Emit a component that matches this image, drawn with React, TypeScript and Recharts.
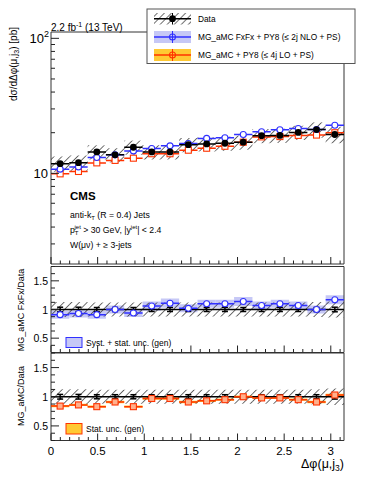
import React from 'react';
import { ComposedChart, Line, Scatter, XAxis, YAxis, ReferenceArea, ErrorBar } from 'recharts';

// bin edges of delta phi(mu, j3)
const binEdges = [0, 0.196, 0.393, 0.589, 0.785, 0.982, 1.178, 1.374, 1.571, 1.767, 1.963, 2.16, 2.356, 2.553, 2.749, 2.945, 3.1416];

// measured cross section [pb] and relative uncertainties
const dataXsec = [11.8, 12.0, 14.4, 13.7, 15.6, 14.4, 14.4, 16.3, 16.5, 16.7, 17.0, 19.0, 19.1, 20.1, 21.1, 19.4];
const dataTotUnc = [0.13, 0.13, 0.12, 0.12, 0.12, 0.12, 0.12, 0.12, 0.12, 0.12, 0.12, 0.12, 0.12, 0.12, 0.13, 0.14];
const dataStatUnc = [0.04, 0.04, 0.035, 0.035, 0.035, 0.035, 0.035, 0.035, 0.035, 0.035, 0.035, 0.035, 0.035, 0.035, 0.035, 0.04];

// MG_aMC FxFx + PY8 over data
const fxfxRatio = [0.91, 0.93, 0.91, 1.0, 0.94, 1.06, 1.11, 1.02, 1.1, 1.1, 1.14, 1.07, 1.1, 1.07, 1.0, 1.17];
const fxfxUnc = [0.07, 0.07, 0.07, 0.07, 0.07, 0.08, 0.08, 0.07, 0.07, 0.07, 0.08, 0.07, 0.07, 0.07, 0.07, 0.08];

// MG_aMC + PY8 (LO) over data
const mgRatio = [0.84, 0.86, 0.83, 0.91, 0.83, 0.97, 0.97, 0.91, 0.93, 0.95, 1.0, 0.98, 0.98, 0.95, 0.91, 1.03];
const mgUnc = [0.02, 0.02, 0.02, 0.02, 0.02, 0.02, 0.02, 0.02, 0.02, 0.02, 0.02, 0.02, 0.02, 0.02, 0.02, 0.02];

const xTicks = [0, 0.1, 0.2, 0.3, 0.4, 0.5, 0.6, 0.7, 0.8, 0.9, 1, 1.1, 1.2, 1.3, 1.4, 1.5, 1.6, 1.7, 1.8, 1.9, 2, 2.1, 2.2, 2.3, 2.4, 2.5, 2.6, 2.7, 2.8, 2.9, 3, 3.1];
const mainTicks = [3, 4, 5, 6, 7, 8, 9, 10, 20, 30, 40, 50, 60, 70, 80, 90, 100];
const ratioTicks = [0.25, 0.375, 0.5, 0.625, 0.75, 0.875, 1, 1.125, 1.25, 1.375, 1.5, 1.625, 1.75];

const X_MAX = 3.1416;
const MAIN_DOMAIN = [2.13, 111.4];
const RATIO_DOMAIN = [0.25, 1.75];

const BLUE = '#3030ff';
const RED = '#ff3300';
const BLUE_BAND = '#c6c8f6';
const ORANGE_BAND = '#ffc933';
const FONT = '"Liberation Sans", Arial, sans-serif';

const ones = dataXsec.map(() => 1);
const fxfxMain = dataXsec.map((v, i) => v * fxfxRatio[i]);
const mgMain = dataXsec.map((v, i) => v * mgRatio[i]);

const stepPts = (vals: number[]) =>
    vals.flatMap((v, i) => [
        { x: binEdges[i], y: v },
        { x: binEdges[i + 1], y: v },
        { x: binEdges[i + 1], y: null },
    ]);

const markerPts = (vals: number[], errs: number[]) =>
    vals.map((v, i) => ({ x: (binEdges[i] + binEdges[i + 1]) / 2, y: v, e: errs[i] }));

const isMajorX = (v: number) => Math.abs(v * 2 - Math.round(v * 2)) < 1e-6;

const makeXTick = (showLabel: boolean) => (props: any) => {
    const { x, y, payload } = props;
    const major = isMajorX(payload.value);
    return (
        <g>
            <line x1={x} x2={x} y1={y} y2={y - (major ? 7 : 3.5)} stroke="#222" strokeWidth={1} />
            {showLabel && major && (
                <text x={x} y={y + 14} textAnchor="middle" fontSize={11.5} fontFamily={FONT} fill="#000">
                    {payload.value}
                </text>
            )}
        </g>
    );
};

const MainYTick = (props: any) => {
    const { x, y, payload } = props;
    const v = payload.value;
    const major = v === 10 || v === 100;
    return (
        <g>
            <line x1={x} x2={x + (major ? 8 : 4)} y1={y} y2={y} stroke="#222" strokeWidth={1} />
            {v === 10 && (
                <text x={x - 3} y={y + 5} textAnchor="end" fontSize={13} fontFamily={FONT}>10</text>
            )}
            {v === 100 && (
                <text x={x - 2} y={y + 5} textAnchor="end" fontSize={13} fontFamily={FONT}>
                    10<tspan dy={-6} fontSize={9}>2</tspan>
                </text>
            )}
        </g>
    );
};

const RatioYTick = (props: any) => {
    const { x, y, payload } = props;
    const v = payload.value;
    const major = v === 0.5 || v === 1 || v === 1.5;
    return (
        <g>
            <line x1={x} x2={x + (major ? 8 : 4)} y1={y} y2={y} stroke="#222" strokeWidth={1} />
            {major && (
                <text x={x - 3} y={y + 4} textAnchor="end" fontSize={10.5} fontFamily={FONT}>{v}</text>
            )}
        </g>
    );
};

const HatchDef = ({ id }: { id: string }) => (
    <defs>
        <pattern id={id} patternUnits="userSpaceOnUse" width={5.5} height={5.5} patternTransform="rotate(45)">
            <line x1={0} y1={0} x2={0} y2={5.5} stroke="#222" strokeWidth={1.3} />
        </pattern>
    </defs>
);

const circleShape = (stroke: string) => (p: any) => (
    <circle cx={p.cx} cy={p.cy} r={3} fill="#fff" stroke={stroke} strokeWidth={1.1} />
);
const squareShape = (fill: string) => (p: any) => (
    <rect x={p.cx - 3} y={p.cy - 3} width={6} height={6} fill={fill} stroke={RED} strokeWidth={1.1} />
);
const dotShape = (p: any) => <circle cx={p.cx} cy={p.cy} r={3.4} fill="#000" />;

const chartStyle: React.CSSProperties = { position: 'absolute', left: 0, top: 0 };

function MainPanel() {
    return (
        <div style={chartStyle}>
            <ComposedChart width={374} height={484} margin={{ top: 32, bottom: 219, left: 50, right: 30 }}>
                <HatchDef id="hatchMain" />
                <XAxis dataKey="x" type="number" domain={[0, X_MAX]} allowDataOverflow ticks={xTicks} interval={0}
                    height={1} tickSize={0} tickMargin={0} axisLine={false} tickLine={false} tick={makeXTick(false)} />
                <YAxis dataKey="y" type="number" scale="log" domain={MAIN_DOMAIN} allowDataOverflow ticks={mainTicks}
                    interval={0} width={1} tickSize={0} tickMargin={0} axisLine={false} tickLine={false} tick={MainYTick} />
                {dataXsec.map((v, i) => (
                    <ReferenceArea key={'h' + i} x1={binEdges[i]} x2={binEdges[i + 1]} y1={v * (1 - dataTotUnc[i])}
                        y2={v * (1 + dataTotUnc[i])} fill="url(#hatchMain)" fillOpacity={1} stroke="none" ifOverflow="hidden" />
                ))}
                <Line data={stepPts(mgMain)} dataKey="y" stroke={RED} strokeWidth={1.5} dot={false} activeDot={false} isAnimationActive={false} />
                <Line data={stepPts(fxfxMain)} dataKey="y" stroke={BLUE} strokeWidth={1.5} dot={false} activeDot={false} isAnimationActive={false} />
                <Line data={stepPts(dataXsec)} dataKey="y" stroke="#000" strokeWidth={1.5} dot={false} activeDot={false} isAnimationActive={false} />
                <Scatter data={markerPts(mgMain, mgMain.map((v, i) => v * mgUnc[i]))} dataKey="y" shape={squareShape('#fff')} isAnimationActive={false}>
                    <ErrorBar dataKey="e" direction="y" width={0} stroke={RED} />
                </Scatter>
                <Scatter data={markerPts(fxfxMain, fxfxMain.map((v) => v * 0.025))} dataKey="y" shape={circleShape(BLUE)} isAnimationActive={false}>
                    <ErrorBar dataKey="e" direction="y" width={0} stroke={BLUE} />
                </Scatter>
                <Scatter data={markerPts(dataXsec, dataXsec.map((v, i) => v * dataStatUnc[i]))} dataKey="y" shape={dotShape} isAnimationActive={false}>
                    <ErrorBar dataKey="e" direction="y" width={0} stroke="#000" />
                </Scatter>
                <ReferenceArea x1={0} x2={X_MAX} y1={MAIN_DOMAIN[0]} y2={MAIN_DOMAIN[1]} fill="none" stroke="#333" strokeWidth={1} ifOverflow="extendDomain" />
            </ComposedChart>
        </div>
    );
}

function RatioPanel({ top, bottom, ratio, unc, band, kind, showLabels, hatchId }: any) {
    const color = kind === 'fxfx' ? BLUE : RED;
    return (
        <div style={chartStyle}>
            <ComposedChart width={374} height={484} margin={{ top, bottom: 484 - bottom - 1, left: 50, right: 30 }}>
                <HatchDef id={hatchId} />
                <XAxis dataKey="x" type="number" domain={[0, X_MAX]} allowDataOverflow ticks={xTicks} interval={0}
                    height={1} tickSize={0} tickMargin={0} axisLine={false} tickLine={false} tick={makeXTick(showLabels)} />
                <YAxis dataKey="y" type="number" domain={RATIO_DOMAIN} allowDataOverflow ticks={ratioTicks} interval={0}
                    width={1} tickSize={0} tickMargin={0} axisLine={false} tickLine={false} tick={RatioYTick} />
                {ratio.map((v: number, i: number) => (
                    <ReferenceArea key={'b' + i} x1={binEdges[i]} x2={binEdges[i + 1]} y1={v - unc[i]} y2={v + unc[i]}
                        fill={band} fillOpacity={1} stroke="none" ifOverflow="hidden" />
                ))}
                {ones.map((v, i) => (
                    <ReferenceArea key={'h' + i} x1={binEdges[i]} x2={binEdges[i + 1]} y1={v - dataTotUnc[i]} y2={v + dataTotUnc[i]}
                        fill={`url(#${hatchId})`} fillOpacity={1} stroke="none" ifOverflow="hidden" />
                ))}
                <Line data={stepPts(ones)} dataKey="y" stroke="#000" strokeWidth={1.5} dot={false} activeDot={false} isAnimationActive={false} />
                <Scatter data={markerPts(ones, dataStatUnc)} dataKey="y" shape={() => <g />} isAnimationActive={false}>
                    <ErrorBar dataKey="e" direction="y" width={3} stroke="#000" />
                </Scatter>
                <Line data={stepPts(ratio)} dataKey="y" stroke={color} strokeWidth={1.5} dot={false} activeDot={false} isAnimationActive={false} />
                <Scatter data={markerPts(ratio, ratio.map(() => 0.02))} dataKey="y"
                    shape={kind === 'fxfx' ? circleShape(BLUE) : squareShape('#ffb08c')} isAnimationActive={false}>
                    <ErrorBar dataKey="e" direction="y" width={0} stroke={color} />
                </Scatter>
                <ReferenceArea x1={0} x2={X_MAX} y1={RATIO_DOMAIN[0]} y2={RATIO_DOMAIN[1]} fill="none" stroke="#333" strokeWidth={1} ifOverflow="extendDomain" />
            </ComposedChart>
        </div>
    );
}

function Overlay() {
    return (
        <svg width={374} height={484} style={{ position: 'absolute', left: 0, top: 0, pointerEvents: 'none' }} fontFamily={FONT}>
            <defs>
                <pattern id="hatchLeg" patternUnits="userSpaceOnUse" width={5} height={5} patternTransform="rotate(45)">
                    <line x1={0} y1={0} x2={0} y2={5} stroke="#222" strokeWidth={1.3} />
                </pattern>
            </defs>
            <text x={51} y={31} fontSize={10}>
                2.2 fb<tspan dy={-4} fontSize={7}>-1</tspan><tspan dy={4}> (13 TeV)</tspan>
            </text>

            {/* legend */}
            <rect x={147} y={9} width={208} height={54.5} fill="#fff" stroke="#555" strokeWidth={1} />
            <rect x={154} y={13} width={37} height={11.5} fill="url(#hatchLeg)" />
            <line x1={154} x2={191} y1={18.7} y2={18.7} stroke="#000" strokeWidth={1.5} />
            <line x1={172.5} x2={172.5} y1={13} y2={24.5} stroke="#000" strokeWidth={1} />
            <circle cx={172.5} cy={18.7} r={3.4} fill="#000" />
            <text x={198} y={21.7} fontSize={8.3}>Data</text>

            <rect x={154} y={31} width={37} height={12} fill={BLUE_BAND} />
            <line x1={154} x2={191} y1={37} y2={37} stroke={BLUE} strokeWidth={1.5} />
            <line x1={172.5} x2={172.5} y1={31} y2={43} stroke={BLUE} strokeWidth={1} />
            <circle cx={172.5} cy={37} r={3} fill="none" stroke={BLUE} strokeWidth={1.1} />
            <text x={198} y={40} fontSize={8.3}>MG_aMC FxFx + PY8 (≤ 2j NLO + PS)</text>

            <rect x={154} y={49} width={37} height={12} fill={ORANGE_BAND} />
            <line x1={154} x2={191} y1={55} y2={55} stroke={RED} strokeWidth={1.5} />
            <line x1={172.5} x2={172.5} y1={49} y2={61} stroke={RED} strokeWidth={1} />
            <circle cx={172.5} cy={55} r={3} fill="none" stroke={RED} strokeWidth={1.1} />
            <text x={198} y={58} fontSize={8.3}>MG_aMC + PY8 (≤ 4j LO + PS)</text>

            {/* CMS label */}
            <text x={70} y={200} fontSize={11.5} fontWeight="bold">CMS</text>
            <text x={70} y={218} fontSize={8.7}>
                anti-k<tspan dy={2} fontSize={6}>T</tspan><tspan dy={-2}> (R = 0.4) Jets</tspan>
            </text>
            <text x={70} y={233} fontSize={8.7}>
                p<tspan dy={2} fontSize={6}>T</tspan><tspan dx={-4} dy={-6} fontSize={6}>jet</tspan>
                <tspan dy={4}> &gt; 30 GeV, |y</tspan><tspan dy={-4} fontSize={6}>jet</tspan><tspan dy={4}>| &lt; 2.4</tspan>
            </text>
            <text x={70} y={248} fontSize={8.7}>W(μν) + ≥ 3-jets</text>

            {/* axis titles */}
            <text transform="rotate(-90)" x={-27} y={17} textAnchor="end" fontSize={10}>
                dσ/dΔφ(μ,j<tspan dy={2} fontSize={7}>3</tspan><tspan dy={-2}>)  [pb]</tspan>
            </text>
            <text transform="rotate(-90)" x={-310} y={24} textAnchor="middle" fontSize={9}>MG_aMC FxFx/Data</text>
            <text transform="rotate(-90)" x={-396} y={24} textAnchor="middle" fontSize={9}>MG_aMC/Data</text>
            <text x={344} y={468} textAnchor="end" fontSize={12.5}>
                Δφ(μ,j<tspan dy={3} fontSize={8.5}>3</tspan><tspan dy={-3}>)</tspan>
            </text>

            {/* ratio legends */}
            <rect x={66} y={337.5} width={16} height={10} fill={BLUE_BAND} stroke={BLUE} strokeWidth={1} />
            <text x={86} y={345.5} fontSize={8.5}>Syst. + stat. unc. (gen)</text>
            <rect x={66} y={423.5} width={16} height={10.5} fill={ORANGE_BAND} stroke={RED} strokeWidth={1} />
            <text x={86} y={432} fontSize={8.5}>Stat. unc. (gen)</text>
        </svg>
    );
}

export default function App() {
    return (
        <div style={{ position: 'absolute', left: 0, top: 0, width: 374, height: 484, background: '#fff' }}>
            <MainPanel />
            <RatioPanel top={266.5} bottom={352.5} ratio={fxfxRatio} unc={fxfxUnc} band={BLUE_BAND}
                kind="fxfx" showLabels={false} hatchId="hatchR1" />
            <RatioPanel top={353} bottom={440.5} ratio={mgRatio} unc={mgUnc} band={ORANGE_BAND}
                kind="mg" showLabels={true} hatchId="hatchR2" />
            <Overlay />
        </div>
    );
}
